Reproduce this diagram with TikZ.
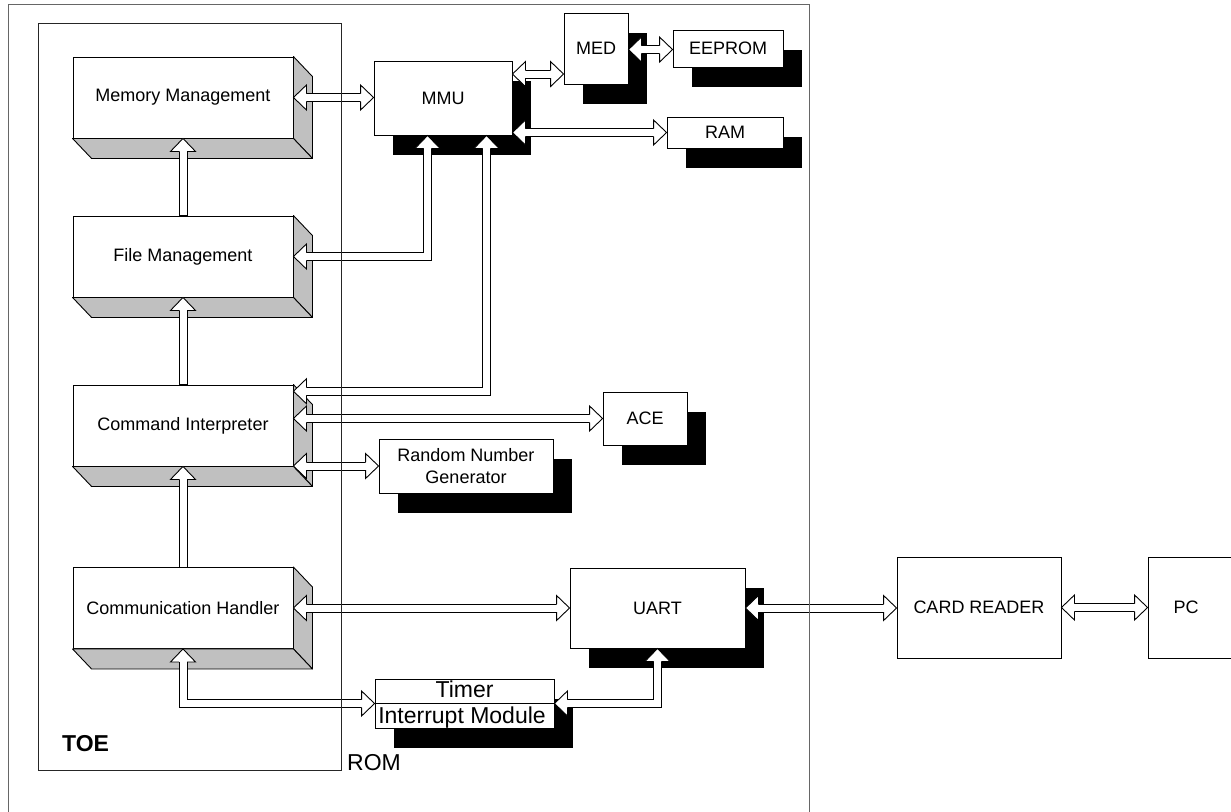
\documentclass[tikz,border=0pt]{standalone}
\usepackage{fontspec}
\setmainfont{Liberation Sans}
\usetikzlibrary{calc,shadows}
\definecolor{gray3d}{HTML}{C0C0C0}
\newcommand\fsn{\fontsize{18}{22}\selectfont}
\newcommand\fsb{\fontsize{23}{26}\selectfont}
\tikzset{
  box/.style={draw, fill=white, line width=0.9pt, inner sep=0pt, align=center, font=\fsn},
  sbox/.style={box, general shadow={fill=black, shadow xshift=19pt, shadow yshift=-20pt}},
  face/.style={draw, fill=gray3d, line width=0.9pt, line join=round},
  sh/.style={draw, fill=white, line width=0.9pt, line join=miter},
  aheadR/.pic={\fill[white] (0,0)--(-13,-12.5)--(-13,12.5)--cycle;
              \draw[line width=0.9pt, line join=miter] (-13,4)--(-13,12.5)--(0,0)--(-13,-12.5)--(-13,-4);},
  aheadL/.pic={\fill[white] (0,0)--(13,-12.5)--(13,12.5)--cycle;
              \draw[line width=0.9pt, line join=miter] (13,4)--(13,12.5)--(0,0)--(13,-12.5)--(13,-4);},
  aheadU/.pic={\fill[white] (0,0)--(-12.5,13)--(12.5,13)--cycle;
              \draw[line width=0.9pt, line join=miter] (-4,13)--(-12.5,13)--(0,0)--(12.5,13)--(4,13);},
  frame/.style={draw, line width=1pt},
}
\newcommand\threed[3]{%
  \node[box, minimum width=220pt, minimum height=81pt] (#1) at #2 {#3};
  \path[face] (#1.north east) -- ++(19,20) -- ([shift={(19pt,-20pt)}]#1.south east) -- (#1.south east) -- cycle;
  \path[face] (#1.south west) -- (#1.south east) -- ++(19,20) -- ([shift={(19pt,-20pt)}]#1.south west) -- cycle;
}
% horizontal double-headed shaft between left point #1 and right point #2
\newcommand\hsh[2]{\path[sh] ($(#1)+(10,-4)$) rectangle ($(#2)+(-10,4)$);
  \pic at (#1) {aheadL}; \pic at (#2) {aheadR};}
\begin{document}
\begin{tikzpicture}[x=1pt,y=-1pt]
\useasboundingbox (0,0) rectangle (1231,811);
% TOE layers
\threed{mm}{(183,97.5)}{Memory Management}
\threed{fm}{(183,256.5)}{File Management}
\threed{ci}{(183,425.5)}{Command Interpreter}
\threed{ch}{(183,608)}{Communication Handler}
% hardware blocks
\node[sbox, minimum width=138pt, minimum height=74pt] (mmu) at (443,98) {MMU};
\node[sbox, minimum width=64pt, minimum height=71pt] (med) at (596,48.5) {MED};
\node[sbox, minimum width=110pt, minimum height=37pt] (eep) at (728,48.5) {EEPROM};
\node[sbox, minimum width=116pt, minimum height=31pt] (ram) at (725,132.5) {RAM};
\node[sbox, minimum width=84pt, minimum height=53pt] (ace) at (645,418.5) {ACE};
\node[sbox, minimum width=174pt, minimum height=54pt] (rng) at (466,466) {Random Number\\Generator};
\node[sbox, minimum width=175pt, minimum height=80pt] (uart) at (657.5,608) {UART};
\node[sbox, minimum width=179pt, minimum height=49pt] (timer) at (464.5,703.5) {};
\draw[line width=0.9pt] (timer.west) -- (timer.east);
\node[font=\fsb, anchor=base, inner sep=0pt] (timert) at (464.5,697) {Timer};
\node[font=\fsb, anchor=base, inner sep=0pt] (timerb) at (462,723) {Interrupt Module};
\node[box, minimum width=164pt, minimum height=101pt] (cr) at (979,607.5) {CARD READER};
\node[box, minimum width=84pt, minimum height=101pt] (pc) at (1190,607.5) {PC\hspace{8pt}};
% vertical arrows inside TOE
\path[sh] ($(mm.south)+(-4,10)$) rectangle ($(fm.north)+(4,0)$);
\path[sh] ($(fm.south)+(-4,10)$) rectangle ($(ci.north)+(4,0)$);
\path[sh] ($(ci.south)+(-4,10)$) rectangle ($(ch.north)+(4,0)$);
\pic at (mm.south) {aheadU};
\pic at (fm.south) {aheadU};
\pic at (ci.south) {aheadU};
% connection points
\coordinate (mmuE1) at ($(mmu.north east)+(0,13.5)$);
\coordinate (medE1) at ($(med.north east)+(0,37)$);
\coordinate (mmuS1) at ([xshift=54pt]mmu.south west);
\coordinate (mmuS2) at ([xshift=113pt]mmu.south west);
\coordinate (ciE1) at ($(ci.north east)+(0,6.7)$);
\coordinate (c1) at (mmuS1 |- fm.east);
\coordinate (c2) at (mmuS2 |- ciE1);
\coordinate (c3) at (ch.south |- timer.west);
\coordinate (c4) at (uart.south |- timer.east);
% straight double-headed connectors
\hsh{mm.east}{mm.east -| mmu.west}
\hsh{mmuE1}{mmuE1 -| med.west}
\hsh{medE1}{medE1 -| eep.west}
\hsh{ram.west -| mmu.east}{ram.west}
\hsh{ace.west -| ci.east}{ace.west}
\hsh{rng.west -| ci.east}{rng.west}
\hsh{ch.east}{uart.west}
\hsh{uart.east}{uart.east -| cr.west}
\hsh{cr.east}{cr.east -| pc.west}
% bent connectors
\path[sh] ($(mmuS1)+(-4,10)$) -- ($(c1)+(-4,-4)$) -- ($(fm.east)+(10,-4)$) -- ($(fm.east)+(10,4)$)
  -- ($(c1)+(4,4)$) -- ($(mmuS1)+(4,10)$) -- cycle;
\pic at (mmuS1) {aheadU}; \pic at (fm.east) {aheadL};
\path[sh] ($(mmuS2)+(-4,10)$) -- ($(c2)+(-4,-4)$) -- ($(ciE1)+(10,-4)$) -- ($(ciE1)+(10,4)$)
  -- ($(c2)+(4,4)$) -- ($(mmuS2)+(4,10)$) -- cycle;
\pic at (mmuS2) {aheadU}; \pic at (ciE1) {aheadL};
\path[sh] ($(ch.south)+(-4,10)$) -- ($(c3)+(-4,4)$) -- ($(timer.west)+(-10,4)$) -- ($(timer.west)+(-10,-4)$)
  -- ($(c3)+(4,-4)$) -- ($(ch.south)+(4,10)$) -- cycle;
\pic at (ch.south) {aheadU}; \pic at (timer.west) {aheadR};
\path[sh] ($(timer.east)+(10,-4)$) -- ($(c4)+(-4,-4)$) -- ($(uart.south)+(-4,10)$) -- ($(uart.south)+(4,10)$)
  -- ($(c4)+(4,4)$) -- ($(timer.east)+(10,4)$) -- cycle;
\pic at (timer.east) {aheadL}; \pic at (uart.south) {aheadU};
% frames
\path[frame, draw=black!60] (8,812) -- (8,4) -- (809,4) -- (809,812);
\path[frame, draw=black!85] (38,23) rectangle (341,770);
\node[font=\bfseries\fsb, anchor=base west, inner sep=0pt] (toe) at (62,751) {TOE};
\node[font=\fsb, anchor=base west, inner sep=0pt] (rom) at (347,770) {ROM};
\end{tikzpicture}
\end{document}
